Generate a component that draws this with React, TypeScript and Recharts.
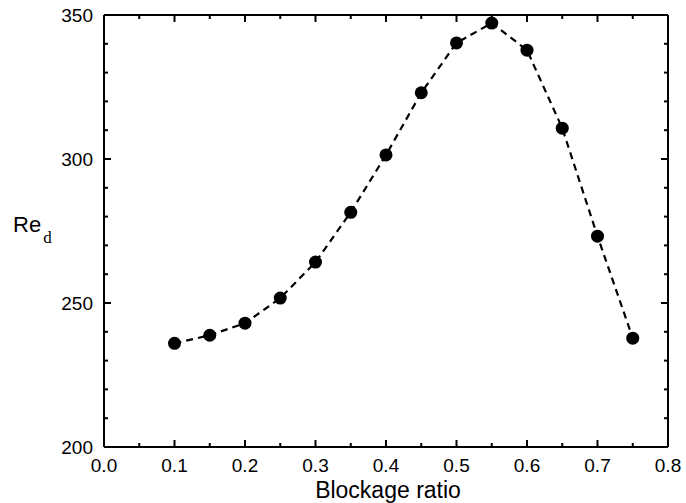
import React from "react";
import { LineChart, Line, XAxis, YAxis } from "recharts";

// blockage ratio (x) and critical Reynolds number Re_d (y)
const blockageRatio = [0.1, 0.15, 0.2, 0.25, 0.3, 0.35, 0.4, 0.45, 0.5, 0.55, 0.6, 0.65, 0.7, 0.75];
const reynoldsD = [236, 238.8, 243, 251.7, 264.2, 281.5, 301.4, 323, 340.3, 347.2, 337.8, 310.7, 273.2, 237.8];

// major + minor tick values
const xTicks = [0, 0.05, 0.1, 0.15, 0.2, 0.25, 0.3, 0.35, 0.4, 0.45, 0.5, 0.55, 0.6, 0.65, 0.7, 0.75, 0.8];
const yTicks = [200, 210, 220, 230, 240, 250, 260, 270, 280, 290, 300, 310, 320, 330, 340, 350];

const data = blockageRatio.map((b, i) => ({ b, re: reynoldsD[i] }));

const FONT = '"Liberation Sans", Arial, Helvetica, sans-serif';
const isMajorX = (v: number) => Math.abs(v * 10 - Math.round(v * 10)) < 1e-6;
const isMajorY = (v: number) => v % 50 === 0;

// ticks point inward, labels only on majors
function BottomTick({ x, y, payload }: any) {
  const v = payload.value;
  const major = isMajorX(v);
  return (
    <g>
      <line x1={x} y1={y} x2={x} y2={y - (major ? 7 : 4)} stroke="#000" strokeWidth={2} />
      {major && (
        <text x={x} y={y + 25} textAnchor="middle" fontSize={19} fontFamily={FONT} fill="#000">
          {v.toFixed(1)}
        </text>
      )}
    </g>
  );
}

function TopTick({ x, y, payload }: any) {
  const major = isMajorX(payload.value);
  return <line x1={x} y1={y} x2={x} y2={y + (major ? 7 : 4)} stroke="#000" strokeWidth={2} />;
}

function LeftTick({ x, y, payload }: any) {
  const v = payload.value;
  const major = isMajorY(v);
  return (
    <g>
      <line x1={x} y1={y} x2={x + (major ? 7 : 4)} y2={y} stroke="#000" strokeWidth={2} />
      {major && (
        <text x={x - 11} y={y + 7} textAnchor="end" fontSize={19} fontFamily={FONT} fill="#000">
          {v}
        </text>
      )}
    </g>
  );
}

function RightTick({ x, y, payload }: any) {
  const major = isMajorY(payload.value);
  return <line x1={x} y1={y} x2={x - (major ? 7 : 4)} y2={y} stroke="#000" strokeWidth={2} />;
}

const axisLine = { stroke: "#000", strokeWidth: 2 };

export default function App() {
  return (
    <div style={{ position: "absolute", left: 0, top: 0, background: "#fff" }}>
      <LineChart width={686} height={503} data={data} margin={{ top: 14, right: 17, bottom: 0, left: 44 }}>
        <XAxis
          dataKey="b"
          type="number"
          domain={[0, 0.8]}
          ticks={xTicks}
          interval={0}
          allowDataOverflow
          height={56}
          tickSize={0}
          tickMargin={0}
          axisLine={axisLine}
          tick={<BottomTick />}
          label={{
            content: ({ viewBox }: any) => (
              <text
                x={viewBox.x + viewBox.width / 2 + 2}
                y={498}
                textAnchor="middle"
                fontSize={23}
                fontFamily={FONT}
                fill="#000"
              >
                Blockage ratio
              </text>
            ),
          }}
        />
        <XAxis
          xAxisId="top"
          orientation="top"
          dataKey="b"
          type="number"
          domain={[0, 0.8]}
          ticks={xTicks}
          interval={0}
          allowDataOverflow
          height={1}
          tickSize={0}
          tickMargin={0}
          axisLine={axisLine}
          tick={<TopTick />}
        />
        <YAxis
          type="number"
          domain={[200, 350]}
          ticks={yTicks}
          interval={0}
          allowDataOverflow
          width={60}
          tickSize={0}
          tickMargin={0}
          axisLine={axisLine}
          tick={<LeftTick />}
          label={{
            content: ({ viewBox }: any) => (
              <text x={13} y={viewBox.y + viewBox.height / 2 + 1} fontSize={22} fontFamily={FONT} fill="#000">
                Re
                <tspan dx={2} dy={11} fontSize={17} fontFamily='"Liberation Serif", "Times New Roman", serif'>
                  d
                </tspan>
              </text>
            ),
          }}
        />
        <YAxis
          yAxisId="right"
          orientation="right"
          type="number"
          domain={[200, 350]}
          ticks={yTicks}
          interval={0}
          allowDataOverflow
          width={1}
          tickSize={0}
          tickMargin={0}
          axisLine={axisLine}
          tick={<RightTick />}
        />
        <Line
          type="linear"
          dataKey="re"
          stroke="#000"
          strokeWidth={2.2}
          strokeDasharray="7 5"
          dot={{ r: 6.5, fill: "#000", stroke: "#000", strokeWidth: 0 }}
          activeDot={false}
          isAnimationActive={false}
        />
        <Line
          xAxisId="top"
          yAxisId="right"
          type="linear"
          dataKey="re"
          stroke="none"
          dot={false}
          activeDot={false}
          legendType="none"
          isAnimationActive={false}
        />
      </LineChart>
    </div>
  );
}
